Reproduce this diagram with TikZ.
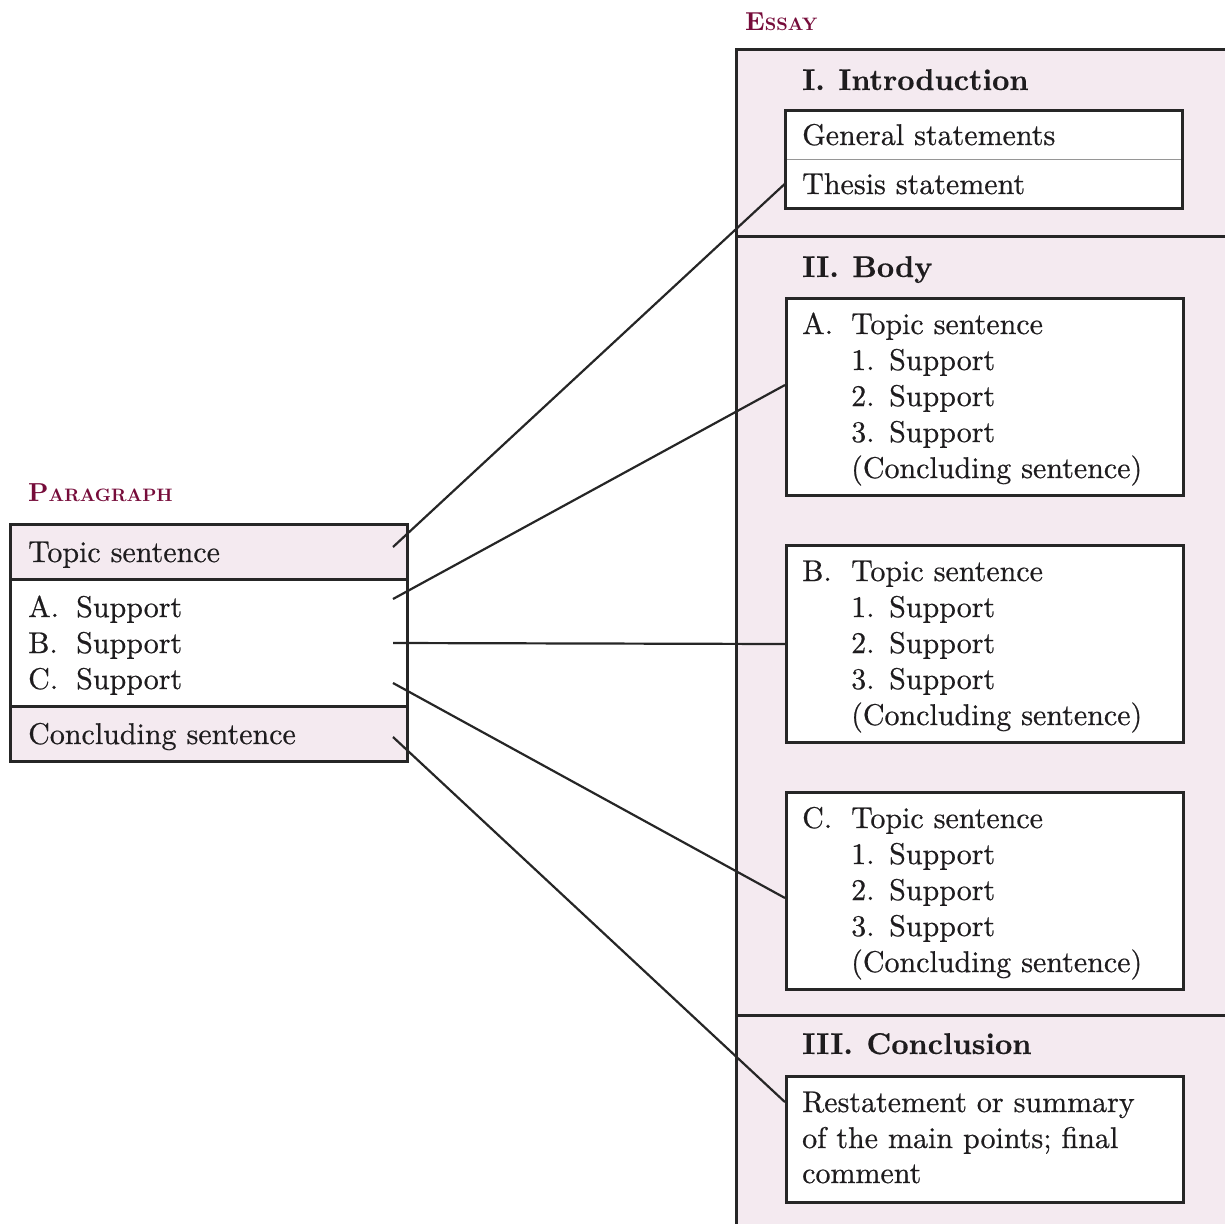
\documentclass[tikz,border=0pt]{standalone}
\usepackage{fontspec}
\setmainfont{lmroman10-regular.otf}[BoldFont=lmroman10-bold.otf]
\usetikzlibrary{calc}

\definecolor{panelpink}{RGB}{244,234,240}
\definecolor{titlered}{RGB}{118,12,58}
\definecolor{edgegray}{RGB}{38,38,38}
\definecolor{inkgray}{RGB}{30,28,30}
\definecolor{rulegray}{RGB}{150,150,150}

% body text: darkened serif
\newcommand{\txtsize}{\fontsize{30}{36}\selectfont\addfontfeature{FakeBold=0.55}}
\newcommand{\headsize}{\fontsize{30}{36}\selectfont\bfseries\addfontfeature{FakeBold=0.35}}
% bold caps-and-small-caps title: big initial, smaller rest
\newcommand{\capsttl}[2]{{\fontsize{26}{30}\selectfont #1}{\fontsize{18}{30}\selectfont #2}}

\tikzset{
  txt/.style={anchor=base west, inner sep=0pt, font=\txtsize, text=inkgray},
  head/.style={txt, font=\headsize},
  ttl/.style={anchor=base west, inner sep=0pt, font=\bfseries, text=titlered},
  cell/.style={anchor=north west, inner sep=0pt, minimum width=397pt, minimum height=#1},
  frame/.style={draw=edgegray, line width=3pt},
  link/.style={draw=edgegray, line width=2.2pt},
}

\begin{document}
\begin{tikzpicture}[x=1pt,y=-1pt]
\useasboundingbox (0,0) rectangle (1224,1224);

% ---------- Essay panel ----------
\fill[panelpink] (736,49) rectangle (1230,1230);
\draw[frame] (736,1230) -- (736,49) -- (1230,49);
\draw[frame] (736,236) -- (1230,236);
\draw[frame] (736,1015) -- (1230,1015);
\node[ttl] (essay) at (745,30) {\capsttl{E}{SSAY}};

% Introduction
\node[head] (hintro) at (802,90) {I.\hspace{0.45em}Introduction};
\node[cell=49pt, fill=white] (genst) at (785,110) {};
\node[cell=49pt, fill=white] (thesis) at (785,159) {};
\draw[rulegray, line width=1.4pt] (genst.south west) -- (genst.south east);
\draw[frame] (genst.north west) rectangle (thesis.south east);
\node[txt] (tgen) at (802,145) {General statements};
\node[txt] (tthesis) at (802,194) {Thesis statement};

% Body
\node[head] (hbody) at (802,277) {II.\hspace{0.45em}Body};
\foreach \k/\y in {A/297,B/544,C/791}{
  \node[cell=197pt, fill=white, frame] (box\k) at (785,\y) {};
  \node[txt] (box\k-let) at (802,\y+37) {\k.};
  \node[txt] (box\k-top) at (851,\y+37) {Topic sentence};
  \foreach \n in {1,2,3}{
    \node[txt] (box\k-n\n) at (851,\y+37+36*\n) {\n.};
    \node[txt] (box\k-s\n) at (889,\y+37+36*\n) {Support};
  }
  \node[txt] (box\k-conc) at (851,\y+181) {(Concluding sentence)};
}

% Conclusion
\node[head] (hconc) at (802,1054) {III.\hspace{0.45em}Conclusion};
\node[cell=126pt, fill=white, frame] (concbox) at (785,1075) {};
\node[txt] (tc1) at (802,1112) {Restatement or summary};
\node[txt] (tc2) at (802,1148) {of the main points; final};
\node[txt] (tc3) at (802,1183) {comment};

% ---------- Paragraph ----------
\node[ttl] (paragraph) at (28,501) {\capsttl{P}{ARAGRAPH}};
\node[cell=55pt, fill=panelpink] (ptopic) at (10,524) {};
\node[cell=127pt, fill=white] (psup) at (10,579) {};
\node[cell=55pt, fill=panelpink] (pconc) at (10,706) {};
\draw[frame] (ptopic.south west) -- (ptopic.south east);
\draw[frame] (pconc.north west) -- (pconc.north east);
\draw[frame] (ptopic.north west) rectangle (pconc.south east);
\node[txt] (ptopic-t) at (28,562) {Topic sentence};
\node[txt] (pa) at (28,617) {A.};
\node[txt] (pas) at (76,617) {Support};
\node[txt] (pb) at (28,653) {B.};
\node[txt] (pbs) at (76,653) {Support};
\node[txt] (pc) at (28,689) {C.};
\node[txt] (pcs) at (76,689) {Support};
\node[txt] (pconc-t) at (28,744) {Concluding sentence};

% ---------- Connectors ----------
\coordinate (from-topic) at (393,547);
\coordinate (from-a) at (393,599);
\coordinate (from-b) at (393,643);
\coordinate (from-c) at (393,683);
\coordinate (from-conc) at (393,737);

\draw[link] (from-topic) -- (thesis.west);
\draw[link] (from-a) -- ($(boxA.north west)!0.44!(boxA.south west)$);
\draw[link] (from-b) -- (boxB.west);
\draw[link] (from-c) -- ($(boxC.north west)!0.535!(boxC.south west)$);
\draw[link] (from-conc) -- ($(concbox.north west)!0.21!(concbox.south west)$);
\end{tikzpicture}
\end{document}
